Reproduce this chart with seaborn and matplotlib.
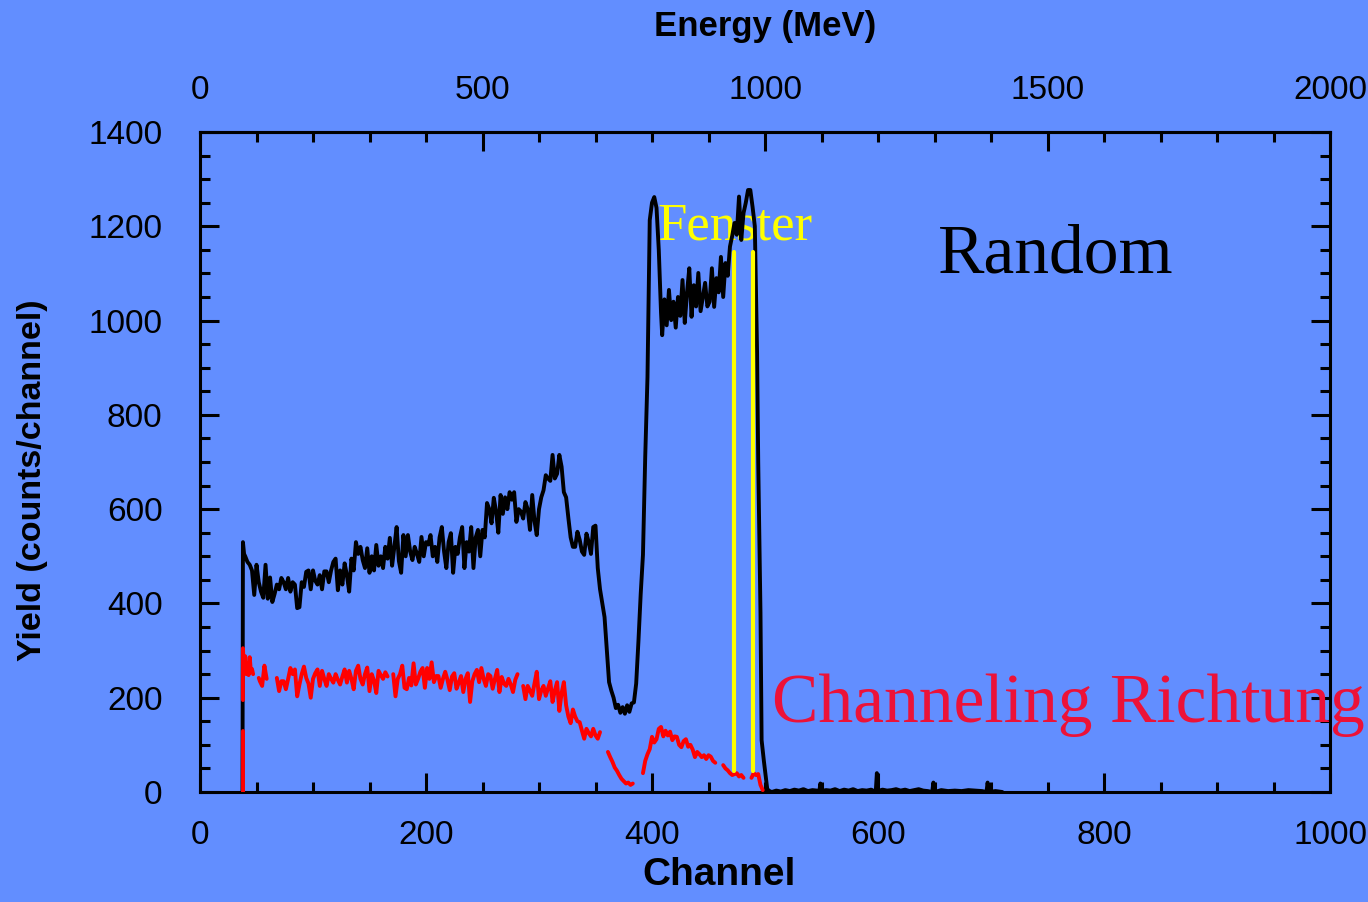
import numpy as np
import pandas as pd
import matplotlib
matplotlib.use("Agg")
import matplotlib.pyplot as plt
import seaborn as sns
from matplotlib.ticker import MultipleLocator, FixedLocator

# ---------------- spectrum data ----------------
# Random spectrum: leading edge
rand_ch_edge = [37.6, 38, 39]
rand_ct_edge = [0, 530, 505]

# Random spectrum: channels 40-350, every 2 channels
rand_ch_body = np.arange(40, 351, 2)
rand_ct_body = [
    500, 488, 482, 470, 418, 482, 445, 425, 412, 482,   # 40-58
    410, 455, 403, 420, 440, 430, 454, 445, 430, 454,   # 60-78
    425, 445, 440, 390, 392, 445, 435, 467, 470, 430,   # 80-98
    470, 448, 440, 460, 430, 468, 468, 445, 470, 488,   # 100-118
    495, 428, 470, 440, 485, 460, 425, 495, 470, 530,   # 120-138
    505, 520, 492, 475, 517, 465, 500, 470, 524, 480,   # 140-158
    500, 475, 520, 495, 539, 480, 520, 562, 490, 465,   # 160-178
    545, 500, 545, 510, 492, 520, 505, 488, 541, 500,   # 180-198
    530, 525, 545, 500, 520, 488, 540, 562, 510, 475,   # 200-218
    530, 549, 465, 520, 505, 540, 562, 475, 530, 510,   # 220-238
    562, 475, 540, 556, 500, 556, 540, 613, 600, 570,   # 240-258
    624, 595, 550, 630, 590, 625, 600, 636, 620, 636,   # 260-278
    573, 600, 595, 580, 615, 600, 556, 630, 575, 545,   # 280-298
    600, 625, 640, 672, 665, 660, 715, 665, 675, 715,   # 300-318
    690, 636, 625, 581, 540, 520, 520, 552, 535, 510,   # 320-338
    503, 548, 530, 505, 562, 565,                       # 340-350
]

# Random spectrum: dip and steep rise
rand_ch_dip = [352, 354, 356, 358, 360, 362, 364, 366, 368, 370, 372, 374,
               376, 378, 380, 382, 384, 386, 388, 390, 392, 394, 396, 398,
               400, 402, 404, 406, 408]
rand_ct_dip = [475, 430, 400, 371, 301, 233, 215, 200, 178, 185, 168, 180,
               166, 184, 170, 188, 190, 230, 320, 420, 503, 711, 880, 1213,
               1250, 1262, 1239, 1150, 1016]

# Random spectrum: high plateau, channels 409-489
rand_ch_top = np.arange(409, 490, 2)
rand_ct_top = [
    969, 1045, 990, 1065, 1001, 1040, 985, 1050, 1010, 1086,
    995, 1060, 1111, 1008, 1075, 1030, 1101, 1020, 1050, 1080,
    1030, 1040, 1111, 1029, 1090, 1060, 1135, 1050, 1122, 1095,
    1157, 1180, 1207, 1182, 1263, 1171, 1228, 1250, 1277, 1277,
    1241,
]

# Random spectrum: falling edge and background
rand_ch_tail = [491, 493, 494, 496, 497, 499, 502, 504,
                506, 510, 514, 518, 522, 526, 530, 534, 538, 542,
                546, 548, 549, 550, 554, 558, 562, 566, 570, 574,
                578, 582, 586, 590, 594, 598, 599, 600, 604, 608,
                612, 616, 620, 624, 628, 632, 636, 640, 644, 648,
                649, 650, 656, 662, 668, 674, 680, 686, 692, 696,
                697, 698, 704, 710]
rand_ct_tail = [1200, 930, 700, 380, 110, 66, 6, 2,
                0, 3, 1, 4, 2, 5, 3, 6, 2, 4,
                3, 0, 18, 2, 4, 3, 6, 2, 5, 3,
                6, 2, 4, 3, 5, 0, 40, 2, 5, 3,
                4, 6, 3, 5, 2, 4, 6, 3, 2, 0,
                20, 0, 4, 2, 3, 2, 4, 3, 2, 0,
                20, 0, 2, 0]

# Channeling spectrum, stored as separate traces
chan_traces = {
    "a": ([38, 38], [0, 130]),
    "b": ([38, 38, 39, 40, 41, 42, 43, 44, 45, 46, 47],
          [195, 305, 255, 288, 250, 272, 248, 286, 257, 261, 250]),
    "c": ([52, 53, 55, 57, 59], [242, 235, 225, 268, 240]),
    "d": (list(range(68, 167, 2)),
          [242, 214, 235, 235, 218, 240, 263, 250, 260, 203,
           228, 250, 266, 242, 230, 200, 240, 252, 260, 225,
           257, 240, 225, 250, 240, 232, 250, 238, 228, 245,
           260, 232, 257, 240, 218, 257, 268, 240, 228, 250,
           264, 214, 250, 236, 210, 257, 248, 240, 254, 245]),
    "e": (list(range(171, 282, 2)),
          [250, 203, 240, 250, 268, 221, 218, 242, 226, 273,
           228, 240, 255, 263, 221, 263, 240, 275, 233, 246,
           246, 221, 240, 255, 238, 216, 245, 252, 219, 232,
           246, 212, 240, 252, 191, 235, 250, 259, 233, 263,
           240, 225, 250, 246, 219, 240, 259, 212, 244, 230,
           225, 240, 228, 212, 238, 250]),
    "f": (list(range(286, 355, 2)),
          [225, 197, 225, 215, 204, 230, 255, 197, 215, 225,
           204, 220, 235, 191, 215, 233, 172, 210, 233, 184,
           160, 146, 175, 160, 150, 148, 130, 113, 134, 125,
           118, 134, 120, 113, 127]),
    "g": ([361, 363, 365, 367, 369, 371, 373, 375, 377, 379, 381, 383],
          [85, 74, 64, 52, 45, 36, 28, 23, 18, 20, 15, 18]),
    "h": (list(range(392, 457, 2)),
          [40, 66, 80, 91, 117, 105, 112, 134, 138, 118,
           130, 120, 128, 110, 118, 117, 100, 95, 108, 112,
           96, 100, 90, 74, 85, 80, 74, 78, 70, 78,
           75, 66, 62]),
    "i": ([463, 465, 467, 469, 471, 473, 475, 477, 479, 481],
          [57, 50, 46, 40, 36, 38, 40, 33, 36, 30]),
    "j": ([488, 490, 492, 494, 496, 498], [30, 40, 36, 38, 15, 4]),
}

# Energy window markers
window_ch = [473, 489]
window_lo, window_hi = 45, 1145

# Tick values
channel_ticks = [0, 200, 400, 600, 800, 1000]
energy_ticks = [0, 500, 1000, 1500, 2000]
energy_minor = [e for e in range(0, 2001, 100) if e % 500]

# ---------------- tables ----------------
random_df = pd.DataFrame({
    "channel": np.concatenate([rand_ch_edge, rand_ch_body, rand_ch_dip,
                               rand_ch_top, rand_ch_tail]).astype(float),
    "counts": np.concatenate([rand_ct_edge, rand_ct_body, rand_ct_dip,
                              rand_ct_top, rand_ct_tail]).astype(float),
})
random_df["trace"] = "random"

chan_df = pd.concat(
    [pd.DataFrame({"channel": np.asarray(c, float),
                   "counts": np.asarray(v, float),
                   "trace": k})
     for k, (c, v) in chan_traces.items()],
    ignore_index=True,
)

window_df = pd.concat(
    [pd.DataFrame({"channel": [c, c], "counts": [window_lo, window_hi],
                   "trace": f"w{i}"})
     for i, c in enumerate(window_ch)],
    ignore_index=True,
)

# ---------------- figure ----------------
sns.set_theme(style="white")
plt.rcParams["font.family"] = ["Liberation Sans", "DejaVu Sans"]

BG = "#628EFF"
fig = plt.figure(figsize=(13.68, 9.02), dpi=100, facecolor=BG)
ax = fig.add_axes([200 / 1368, 1 - 792 / 902, 1130 / 1368, 660 / 902])
ax.set_facecolor(BG)

sns.lineplot(data=random_df, x="channel", y="counts", units="trace",
             estimator=None, sort=False, color="black", lw=2.8, ax=ax,
             zorder=3)
sns.lineplot(data=chan_df, x="channel", y="counts", units="trace",
             estimator=None, sort=False, color="#FF0000", lw=2.8, ax=ax,
             zorder=4)
sns.lineplot(data=window_df, x="channel", y="counts", units="trace",
             estimator=None, sort=False, color="#FFFF00", lw=3.0, ax=ax,
             zorder=5)

ax.set_xlim(0, 1000)
ax.set_ylim(0, 1400)

# Annotations
ax.text(405, 1171, "Fenster", color="#FFFF00", fontsize=38,
        family="Liberation Serif", ha="left", va="baseline", zorder=2)
ax.text(653, 1101, "Random", color="black", fontsize=50,
        family="Liberation Serif", ha="left", va="baseline", zorder=2)
ax.text(506, 148, "Channeling Richtung", color="#EC1238", fontsize=50,
        family="Liberation Serif", ha="left", va="baseline", zorder=6,
        clip_on=False)

# Axes styling
for s in ax.spines.values():
    s.set_color("black")
    s.set_linewidth(2.2)

ax.xaxis.set_major_locator(FixedLocator(channel_ticks))
ax.xaxis.set_minor_locator(MultipleLocator(50))
ax.yaxis.set_major_locator(MultipleLocator(200))
ax.yaxis.set_minor_locator(MultipleLocator(50))

ax.tick_params(which="both", direction="in", top=False, right=True,
               bottom=True, left=True, color="black", width=2.2,
               labelsize=24, labelcolor="black")
ax.tick_params(which="major", length=14)
ax.tick_params(which="minor", length=7)
ax.tick_params(axis="x", which="major", pad=20)
ax.tick_params(axis="y", which="major", pad=27)

ax.set_xlabel("Channel", fontsize=28, fontweight="bold", color="black")
ax.xaxis.set_label_coords(0.4593, -0.099)
ax.set_ylabel("Yield (counts/channel)", fontsize=24.5, fontweight="bold",
              color="black")
ax.yaxis.set_label_coords(-0.1345, 0.4727)

# Energy scale on top
sec = ax.secondary_xaxis("top", functions=(lambda c: c * 2.0,
                                            lambda e: e / 2.0))
sec.xaxis.set_major_locator(FixedLocator(energy_ticks))
sec.xaxis.set_minor_locator(FixedLocator(energy_minor))
sec.tick_params(which="both", direction="in", color="black", width=2.2,
                labelsize=24, labelcolor="black")
sec.tick_params(which="major", length=14, pad=19)
sec.tick_params(which="minor", length=7)
sec.spines["top"].set_linewidth(2.2)
sec.spines["top"].set_color("black")
sec.set_xlabel("Energy (MeV)", fontsize=25, fontweight="bold",
               color="black", labelpad=28)

fig.savefig("out.png", dpi=100, facecolor=BG)
